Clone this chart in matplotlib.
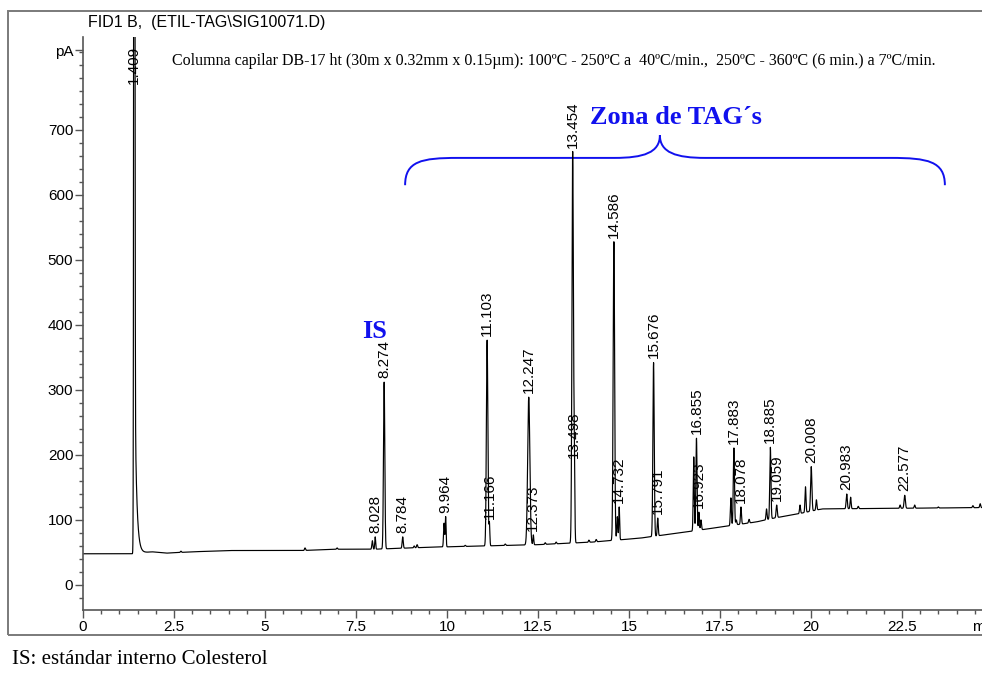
import numpy as np
import matplotlib
matplotlib.use("Agg")
import matplotlib.pyplot as plt
from matplotlib.path import Path
from matplotlib.patches import PathPatch, Rectangle
import matplotlib.transforms as mtransforms

SANS = "Liberation Sans"
SERIF = "Liberation Serif"

# ---------------- data ----------------
# baseline (time in min, signal in pA)
BASE_T = [0, 1.35, 1.9, 2.3, 3.0, 4.0, 6.0, 7.0, 8.0, 9.5, 11.0, 12.5, 14.0,
          15.3, 16.5, 17.5, 18.5, 19.0, 19.7, 20.3, 24.7]
BASE_Y = [48, 48, 51, 49, 51, 53, 53, 55, 55, 58, 60, 62, 66,
          72, 81, 89, 97, 103, 110, 117, 119]

# solvent peak (off scale)
SOLVENT_RT = 1.409
SOLVENT_TOP = 3000
SOLVENT_TAIL = 350
SOLVENT_TAU = 0.05

# labelled peaks: retention time, apex (pA), width (min)
LABEL_RT = [8.028, 8.274, 8.784, 9.964, 11.103, 11.166, 12.247, 12.373,
            13.454, 13.498, 14.586, 14.732, 15.676, 15.791, 16.855, 16.923,
            17.883, 18.078, 18.885, 19.059, 20.008, 20.983, 22.577]
LABEL_TOP = [74, 312, 74, 105, 377, 95, 289, 77,
             666, 189, 528, 120, 342, 103, 226, 112,
             211, 120, 212, 123, 182, 140, 138]
LABEL_W = [0.012, 0.018, 0.015, 0.012, 0.02, 0.012, 0.03, 0.012,
           0.02, 0.014, 0.02, 0.012, 0.018, 0.014, 0.016, 0.012,
           0.016, 0.014, 0.016, 0.016, 0.018, 0.016, 0.018]

# unlabelled minor peaks
MINOR_RT = [2.69, 6.10, 6.98, 7.95, 9.10, 9.18, 9.92, 10.5, 11.6, 12.7, 13.0,
            13.9, 14.1, 14.68, 16.78, 16.98, 17.80, 17.95, 18.30, 18.78, 19.70,
            19.85, 20.15, 21.09, 21.30, 22.45, 22.85, 23.5, 24.45, 24.65]
MINOR_TOP = [52, 57, 57, 68, 60, 62, 95, 61, 63, 65, 66,
             69, 70, 105, 197, 100, 134, 100, 101, 117, 123,
             151, 131, 135, 121, 123, 123, 120, 122, 125]

SOLVENT_LABEL_Y = 765

YTICKS = [0, 100, 200, 300, 400, 500, 600, 700]
XTICKS = [0, 2.5, 5, 7.5, 10, 12.5, 15, 17.5, 20, 22.5]
XTICK_LABELS = ["0", "2.5", "5", "7.5", "10", "12.5", "15", "17.5", "20", "22.5"]

TITLE = "FID1 B,  (ETIL-TAG\\SIG10071.D)"
COLUMN_TEXT = ("Columna capilar DB-17 ht (30m x 0.32mm x 0.15\u00b5m): 100\u00baC - 250\u00baC a  "
               "40\u00baC/min.,  250\u00baC - 360\u00baC (6 min.) a 7\u00baC/min.")
ZONE_TEXT = "Zona de TAG\u00b4s"
IS_TEXT = "IS"
FOOT_TEXT = "IS: est\u00e1ndar interno Colesterol"

# ---------------- build trace ----------------
XMAX = 24.7
t = np.arange(0, XMAX + 0.002, 0.002)
base = np.interp(t, BASE_T, BASE_Y)
sig = base.copy()

def add_peak(rt, top, w):
    amp = top - np.interp(rt, BASE_T, BASE_Y)
    return amp * np.exp(-0.5 * ((t - rt) / w) ** 2)

sig += add_peak(SOLVENT_RT, SOLVENT_TOP, 0.012)
tail = np.where(t >= SOLVENT_RT, SOLVENT_TAIL * np.exp(-(t - SOLVENT_RT) / SOLVENT_TAU), 0.0)
sig += tail
for rt, top, w in zip(LABEL_RT, LABEL_TOP, LABEL_W):
    sig += add_peak(rt, top, w)
for rt, top in zip(MINOR_RT, MINOR_TOP):
    sig += add_peak(rt, top, 0.014)

# ---------------- figure ----------------
W, H = 982, 673
fig = plt.figure(figsize=(W / 100, H / 100), dpi=100)
fig.patch.set_facecolor("white")

# outer frame
frame = Rectangle((8 / W, 1 - 635 / H), 1.2, (635 - 11) / H, transform=fig.transFigure,
                  fill=False, edgecolor="#7a7a7a", lw=1.4, clip_on=False)
fig.patches.append(frame)

ax_left = 83 / W
ax_bottom = 1 - 610 / H
ax_top = 1 - 37 / H
ax = fig.add_axes([ax_left, ax_bottom, 1 - ax_left, ax_top - ax_bottom])
ax.set_facecolor("none")

ax.plot(t, sig, color="black", lw=0.85)
ax.set_xlim(0, XMAX)
ax.set_ylim(-38.5, 843)

for s in ["top", "right"]:
    ax.spines[s].set_visible(False)
for s in ["left", "bottom"]:
    ax.spines[s].set_color("#555555")
    ax.spines[s].set_linewidth(1.2)

ax.set_yticks(YTICKS + [823])
ax.set_yticklabels([str(v) for v in YTICKS] + ["pA"])
ax.set_yticks(np.arange(-20, 821, 20), minor=True)
ax.set_xticks(XTICKS)
ax.set_xticklabels(XTICK_LABELS)
ax.set_xticks(np.arange(0, XMAX, 0.5), minor=True)
ax.tick_params(axis="both", which="major", length=5.5, width=1.0, color="#555555",
               labelsize=11, pad=1.5)
ax.tick_params(axis="both", which="minor", length=2.8, width=1.0, color="#555555")
for lab in ax.get_xticklabels() + ax.get_yticklabels():
    lab.set_fontfamily(SANS)

trans = mtransforms.blended_transform_factory(ax.transData, ax.transAxes)
ax.annotate("min", xy=(24.42, 0), xycoords=trans, xytext=(0, -7.5), textcoords="offset points",
            ha="left", va="top", fontsize=11, family=SANS, annotation_clip=False)

# peak labels
ax.annotate(f"{SOLVENT_RT:.3f}", xy=(SOLVENT_RT, SOLVENT_LABEL_Y), xytext=(0, 3),
            textcoords="offset points", rotation=90, ha="center", va="bottom",
            fontsize=11, family=SANS, annotation_clip=False)
for rt, top in zip(LABEL_RT, LABEL_TOP):
    ax.annotate(f"{rt:.3f}", xy=(rt, top), xytext=(0, 3), textcoords="offset points",
                rotation=90, ha="center", va="bottom", fontsize=11, family=SANS)

# texts
fig.text(88 / W, 1 - 22 / H, TITLE, ha="left", va="center", fontsize=11.5, family=SANS)
fig.text(172 / W, 1 - 61 / H, COLUMN_TEXT, ha="left", va="center", fontsize=11.5, family=SERIF)
BLUE = "#1111ee"
fig.text(676 / W, 1 - 117 / H, ZONE_TEXT, ha="center", va="center", fontsize=19,
         family=SERIF, weight="bold", color=BLUE)
fig.text(375 / W, 1 - 331 / H, IS_TEXT, ha="center", va="center", fontsize=19,
         family=SERIF, weight="bold", color=BLUE)
fig.text(12 / W, 1 - 660 / H, FOOT_TEXT, ha="left", va="center", fontsize=15, family=SERIF)

# curly brace (annotation)
verts = [
    (8.85, 615), (8.85, 652), (9.3, 657), (10.3, 657),
    (14.6, 657),
    (15.4, 657), (15.85, 665), (15.85, 692),
    (15.85, 665), (16.3, 657), (17.1, 657),
    (22.2, 657),
    (23.2, 657), (23.68, 652), (23.68, 615),
]
codes = [Path.MOVETO, Path.CURVE4, Path.CURVE4, Path.CURVE4,
         Path.LINETO,
         Path.CURVE4, Path.CURVE4, Path.CURVE4,
         Path.CURVE4, Path.CURVE4, Path.CURVE4,
         Path.LINETO,
         Path.CURVE4, Path.CURVE4, Path.CURVE4]
ax.add_patch(PathPatch(Path(verts, codes), fill=False, edgecolor=BLUE, lw=1.4))

fig.savefig("out.png", dpi=100)
